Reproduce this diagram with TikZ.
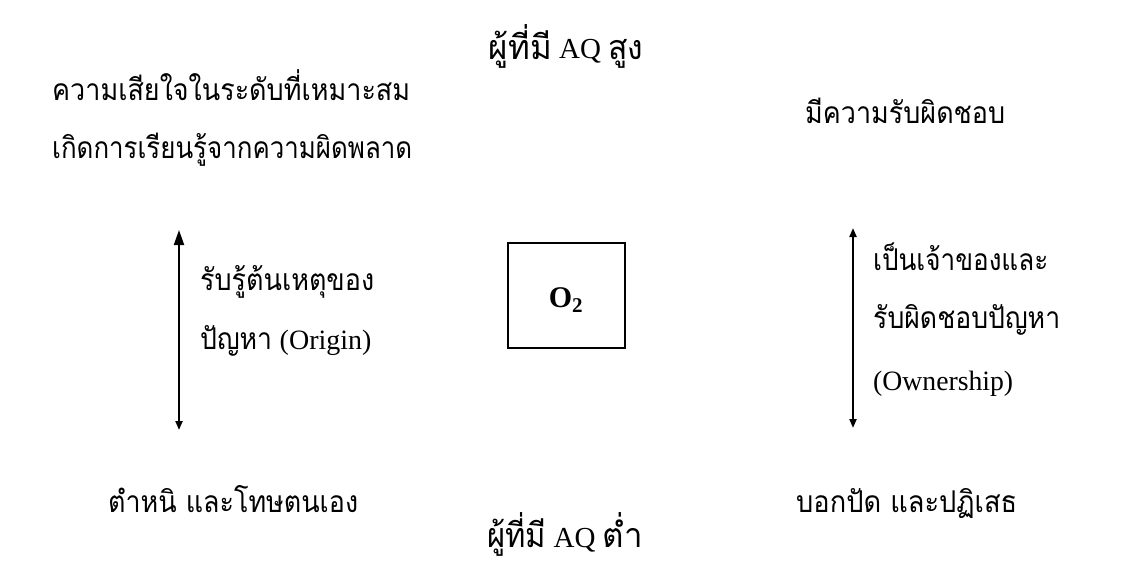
\documentclass[tikz,border=0pt]{standalone}
\usepackage{fontspec}
\usepackage{graphicx}
\setmainfont{Liberation Serif}
\newfontfamily\thai[Script=Thai]{Loma}
\usetikzlibrary{arrows.meta}
% Thai text squeezed to a given width, height kept
\newcommand\tw[2]{\resizebox{#1pt}{\height}{\thai #2}}
\tikzset{
  body/.style={inner sep=0pt, anchor=base west, font=\fontsize{30}{34}\selectfont},
  head/.style={inner sep=0pt, anchor=base, font=\fontsize{29}{34}\selectfont},
  bigtip/.tip={Triangle[length=15pt,width=10pt]},
  smalltip/.tip={Triangle[length=9pt,width=7pt]},
  vline/.style={line width=2pt},
  obox/.style={draw, line width=2pt, minimum width=117pt, minimum height=105pt, inner sep=0pt}
}
\begin{document}
\begin{tikzpicture}[x=1pt,y=-1pt]
\fill[white] (0,0) rectangle (1131,578);
\useasboundingbox (0,0) rectangle (1131,578);
% titles
\node[head] (top) at (566,59) {{\fontsize{34}{38}\selectfont\tw{63}{ผู้ที่มี}} AQ {\fontsize{34}{38}\selectfont\tw{35}{สูง}}};
\node[head] (bot) at (565,547) {{\fontsize{34}{38}\selectfont\tw{59}{ผู้ที่มี}} AQ {\fontsize{34}{38}\selectfont\tw{40}{ต่ำ}}};
% upper labels
\node[body] (l1) at (52,100) {\tw{358}{ความเสียใจในระดับที่เหมาะสม}};
\node[body] (l2) at (52,158) {\tw{360}{เกิดการเรียนรู้จากความผิดพลาด}};
\node[body] (r1) at (805,123) {\tw{200}{มีความรับผิดชอบ}};
% left axis
\coordinate (ltop) at (179,230);
\coordinate (lbot) at (179,430);
\draw[vline, bigtip-smalltip] (ltop) -- (lbot);
\node[body] (o1) at (200,290) {\tw{174}{รับรู้ต้นเหตุของ}};
\node[body] (o2) at (200,349) {\tw{72}{ปัญหา} {\fontsize{28}{32}\selectfont(Origin)}};
% centre box
\node[obox] (box) at (566.5,295.5) {};
\node[inner sep=0pt] (o2lbl) at (566,300) {\fontsize{30}{34}\selectfont\bfseries O$_{\mathbf{2}}$};
% right axis
\coordinate (rtop) at (853,228);
\coordinate (rbot) at (853,428);
\draw[vline, smalltip-smalltip] (rtop) -- (rbot);
\node[body] (w1) at (873,270) {\tw{175}{เป็นเจ้าของและ}};
\node[body] (w2) at (873,328) {\tw{187}{รับผิดชอบปัญหา}};
\node[body] (w3) at (873,390) {\fontsize{28}{32}\selectfont\resizebox{140pt}{\height}{(Ownership)}};
% lower labels
\node[body] (b1) at (108,512) {\tw{250}{ตำหนิ และโทษตนเอง}};
\node[body] (b2) at (796,512) {\tw{221}{บอกปัด และปฏิเสธ}};
\end{tikzpicture}
\end{document}
